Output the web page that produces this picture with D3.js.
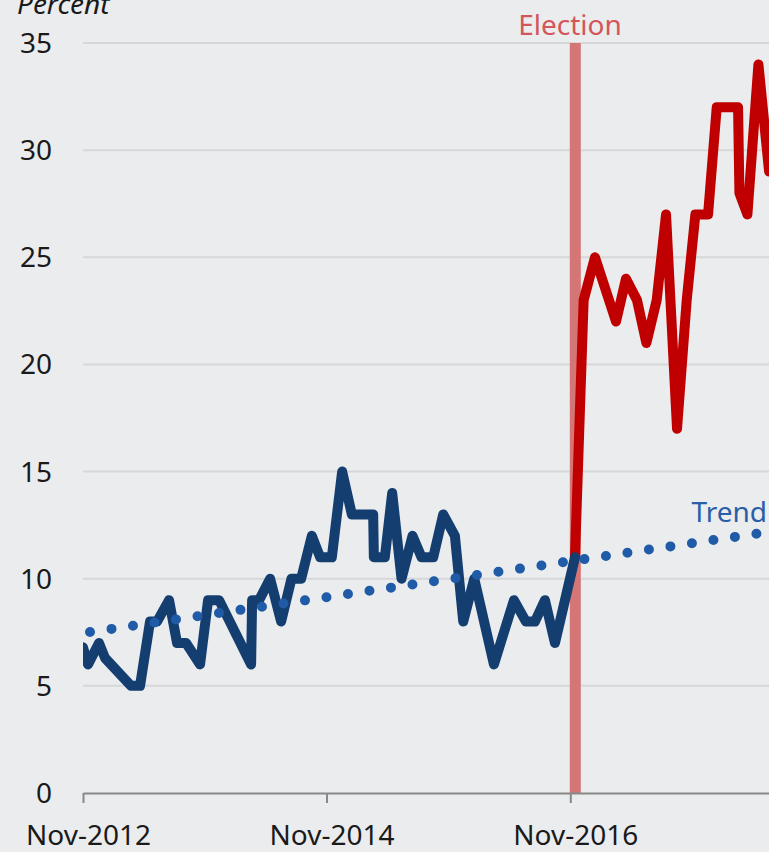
<!DOCTYPE html>
<html>
<head>
<meta charset="utf-8">
<script src="https://cdn.jsdelivr.net/npm/d3@7"></script>
<style>
  html, body { margin: 0; padding: 0; background: #ebecee; }
  svg { display: block; }
  text { font-family: "Noto Sans", "Open Sans", sans-serif; }
</style>
</head>
<body>
<svg id="chart" width="769" height="852"></svg>
<script>
// ---- Data ----
const blueDates = ["2012-11-01","2012-11-16","2012-12-19","2013-01-06","2013-03-25","2013-04-21","2013-05-21","2013-06-11","2013-07-17","2013-08-10","2013-09-06","2013-10-18","2013-11-11","2013-12-14","2014-03-20","2014-03-23","2014-04-13","2014-05-16","2014-06-18","2014-07-19","2014-08-17","2014-09-18","2014-10-13","2014-11-17","2014-12-18","2015-01-16","2015-03-21","2015-03-23","2015-04-25","2015-05-17","2015-06-14","2015-07-17","2015-08-13","2015-09-17","2015-10-17","2015-11-21","2015-12-16","2016-01-18","2016-03-17","2016-05-16","2016-06-21","2016-07-18","2016-08-17","2016-09-16","2016-11-15"];
const blueValues = [6.8,6.0,7.0,6.3,5,5,8,8,9,7,7,6,9,9,6,9,9,10,8,10,10,12,11,11,15,13,13,11,11,14,10,12,11,11,13,12,8,10,6,9,8,8,9,7,11];

const redDates = ["2016-11-15","2016-12-11","2017-01-14","2017-03-18","2017-04-17","2017-05-20","2017-06-17","2017-07-18","2017-08-15","2017-09-17","2017-10-16","2017-11-11","2017-12-19","2018-01-14","2018-03-19","2018-03-23","2018-04-16","2018-05-19","2018-06-20"];
const redValues = [11,23,25,22,24,23,21,23,27,17,23,27,27,32,32,28,27,34,29];

const trendDates = ["2012-11-22","2018-05-13"];
const trendValues = [7.51,12.10];

const electionDate = "2016-11-16";
const yTicks = [0,5,10,15,20,25,30,35];
const xTicks = ["2012-11-01","2014-11-01","2016-11-01"];
const xTickLabels = ["Nov-2012","Nov-2014","Nov-2016"];

// ---- Setup ----
const W = 769, H = 852;
const parse = d3.timeParse("%Y-%m-%d");
const svg = d3.select("#chart");

svg.append("rect").attr("width", W).attr("height", H).attr("fill", "#ebecee");

const y = d3.scaleLinear().domain([0, 35]).range([793, 43]);
const x0 = d3.scaleTime().domain([parse("2012-11-01"), parse("2016-11-01")]).range([83, 570.3]);
const x = d3.scaleTime().domain([parse("2012-11-01"), x0.invert(W)]).range([83, W]);

svg.append("defs").append("clipPath").attr("id", "plotclip")
  .append("rect").attr("x", 83).attr("y", 0).attr("width", W - 83).attr("height", H);

// gridlines
svg.append("g").selectAll("line").data(yTicks.filter(d => d > 0)).join("line")
  .attr("x1", 83).attr("x2", W)
  .attr("y1", d => y(d)).attr("y2", d => y(d))
  .attr("stroke", "#d6d7d9").attr("stroke-width", 2);

// y labels
svg.append("g").selectAll("text").data(yTicks).join("text")
  .attr("x", 52).attr("y", d => y(d) + 10)
  .attr("text-anchor", "end")
  .attr("font-size", 28).attr("fill", "#1a1a1a")
  .text(d => d);

// election bar
svg.append("rect")
  .attr("x", x(parse(electionDate)) - 5.5).attr("width", 11)
  .attr("y", y(35)).attr("height", y(0) - y(35))
  .attr("fill", "#d67576");

// x axis
const xAxis = d3.axisBottom(x)
  .tickValues(xTicks.map(parse))
  .tickSize(10).tickSizeOuter(0)
  .tickFormat((d, i) => xTickLabels[i]);
const gx = svg.append("g").attr("transform", "translate(0,793)").call(xAxis);
gx.select(".domain").attr("stroke", "#888").attr("stroke-width", 2);
gx.selectAll(".tick line").attr("stroke", "#888").attr("stroke-width", 2);
gx.selectAll(".tick text")
  .attr("y", 52).attr("dy", 0).attr("x", 5)
  .attr("font-size", 28).attr("fill", "#1a1a1a")
  .attr("font-family", "Noto Sans, Open Sans, sans-serif");

const line = d3.line().x(d => x(d[0])).y(d => y(d[1]));

const red = redDates.map((d, i) => [parse(d), redValues[i]]);
const blue = blueDates.map((d, i) => [parse(d), blueValues[i]]);
const trend = trendDates.map((d, i) => [parse(d), trendValues[i]]);

const plot = svg.append("g").attr("clip-path", "url(#plotclip)");

plot.append("path").datum(red).attr("d", line)
  .attr("fill", "none").attr("stroke", "#c00000").attr("stroke-width", 10)
  .attr("stroke-linejoin", "round").attr("stroke-linecap", "round");

plot.append("path").datum(blue).attr("d", line)
  .attr("fill", "none").attr("stroke", "#143e70").attr("stroke-width", 10)
  .attr("stroke-linejoin", "round").attr("stroke-linecap", "round");

plot.append("path").datum(trend).attr("d", line)
  .attr("fill", "none").attr("stroke", "#1f5ba6").attr("stroke-width", 10)
  .attr("stroke-linecap", "round")
  .attr("pathLength", 31)
  .attr("stroke-dasharray", "0 1");

// labels
svg.append("text").attr("x", 17).attr("y", 14)
  .attr("font-size", 28).attr("font-style", "italic").attr("fill", "#1a1a1a")
  .text("Percent");

svg.append("text").attr("x", 570).attr("y", 35)
  .attr("text-anchor", "middle")
  .attr("font-size", 28).attr("fill", "#d3575a")
  .text("Election");

svg.append("text").attr("x", 767).attr("y", 522)
  .attr("text-anchor", "end")
  .attr("font-size", 28).attr("fill", "#2a5ea8")
  .text("Trend");
</script>
</body>
</html>
